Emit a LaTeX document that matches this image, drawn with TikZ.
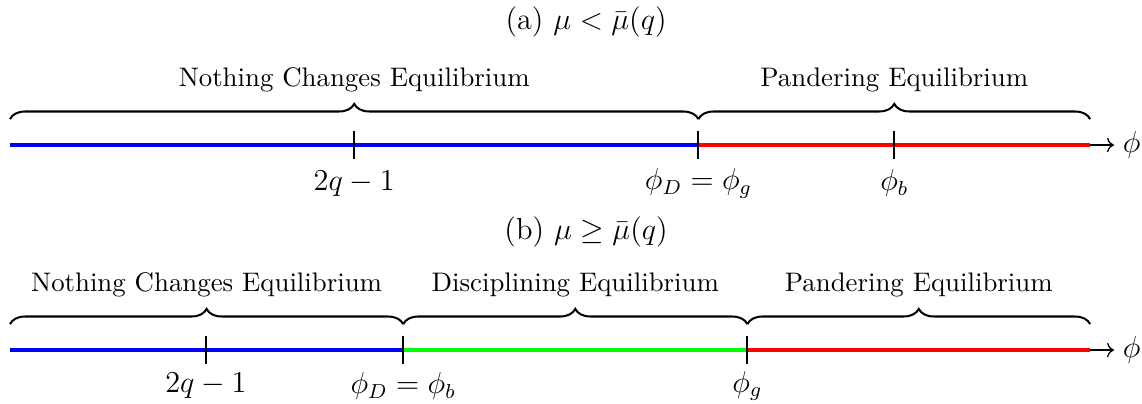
\documentclass[tikz,border=0pt]{standalone}
\usepackage{amsmath, amssymb}
\usepackage{tikz}
\usetikzlibrary{arrows.meta, positioning, decorations.pathreplacing}

\begin{document}
\begin{tikzpicture}[
    axisline/.style={line width=1.6pt},
    cut/.style={line width=0.8pt},
    brace/.style={decorate, decoration={brace, amplitude=6pt}, line width=0.8pt},
    bracelabel/.style={midway, above=0.25cm, font=\fontsize{10.6}{12}\selectfont},
    mathlabel/.style={font=\large},
    arrow/.style={-{To}, line width=0.5pt}
]
    \useasboundingbox (-0.139,-0.736) rectangle (15.72,4.861);

    % (a) mu < bar mu(q)
    \begin{scope}[yshift=2.847cm]
    \coordinate (a0) at (0,0);
    \coordinate (a1) at (4.78,0);
    \coordinate (a2) at (9.56,0);
    \coordinate (a3) at (12.28,0);
    \coordinate (a4) at (15,0);
    \node[mathlabel] (titlea) at (8.0,1.71) {(a) $\mu < \bar{\mu}(q)$};

    \draw[axisline, blue] (a0) -- (a2);
    \draw[axisline, red] (a2) -- (a4);
    \node[mathlabel, right=0.33cm of a4, anchor=west] (phia) {$\phi$};
    \draw[arrow] (a4) -- (phia);

    \foreach \p/\lab in {a1/{2q-1}, a2/{\phi_D=\phi_g}, a3/{\phi_b}} {
        \draw[cut] ([yshift=0.2cm]\p) -- ([yshift=-0.2cm]\p);
        \node[mathlabel] (lab-\p) at ([yshift=-0.53cm]\p) {$\lab$};
    }

    \draw[brace] ([yshift=0.36cm]a0) -- ([yshift=0.36cm]a2) node[bracelabel] (nca) {Nothing Changes Equilibrium};
    \draw[brace] ([yshift=0.36cm]a2) -- ([yshift=0.36cm]a4) node[bracelabel] (pea) {Pandering Equilibrium};
    \end{scope}

    % (b) mu >= bar mu(q)
    \coordinate (b0) at (0,0);
    \coordinate (b1) at (2.72,0);
    \coordinate (b2) at (5.46,0);
    \coordinate (b3) at (10.24,0);
    \coordinate (b4) at (15,0);
    \node[mathlabel] (titleb) at (8.0,1.64) {(b) $\mu \geq \bar{\mu}(q)$};

    \draw[axisline, blue] (b0) -- (b2);
    \draw[axisline, green] (b2) -- (b3);
    \draw[axisline, red] (b3) -- (b4);
    \node[mathlabel, right=0.33cm of b4, anchor=west] (phib) {$\phi$};
    \draw[arrow] (b4) -- (phib);

    \foreach \p/\lab in {b1/{2q-1}, b2/{\phi_D=\phi_b}, b3/{\phi_g}} {
        \draw[cut] ([yshift=0.2cm]\p) -- ([yshift=-0.2cm]\p);
        \node[mathlabel] (lab-\p) at ([yshift=-0.5cm]\p) {$\lab$};
    }

    \draw[brace] ([yshift=0.36cm]b0) -- ([yshift=0.36cm]b2) node[bracelabel] (ncb) {Nothing Changes Equilibrium};
    \draw[brace] ([yshift=0.36cm]b2) -- ([yshift=0.36cm]b3) node[bracelabel] (deb) {Disciplining Equilibrium};
    \draw[brace] ([yshift=0.36cm]b3) -- ([yshift=0.36cm]b4) node[bracelabel] (peb) {Pandering Equilibrium};
\end{tikzpicture}
\end{document}
